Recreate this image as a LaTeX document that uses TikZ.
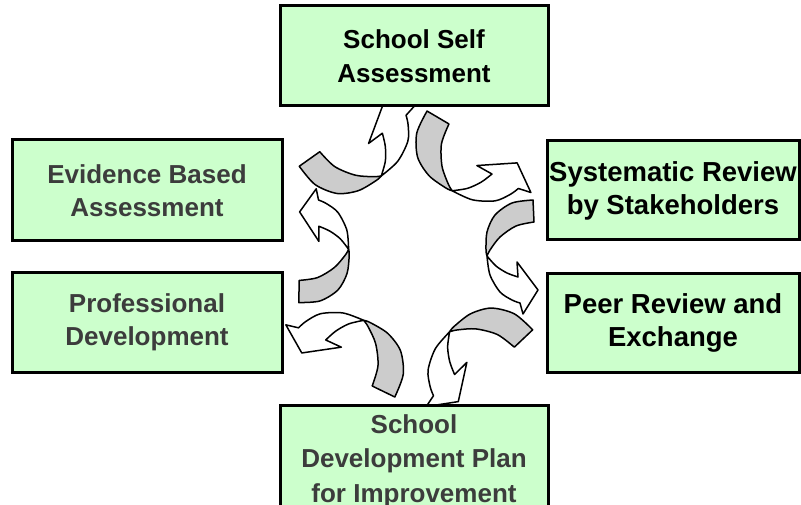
\documentclass[tikz,border=0pt]{standalone}
\usepackage{fontspec}
\setmainfont{Liberation Sans}
\definecolor{boxgreen}{RGB}{204,255,204}
\definecolor{ribbongray}{RGB}{204,204,204}
\definecolor{textgray}{RGB}{60,60,60}
\newcommand{\ribbonarrow}{%
  \filldraw[ribbonback]
    plot[smooth] coordinates {(-0.5,-11) (-21.5,-8) (-38.5,4) (-46.5,21) (-47.5,39) (-46.5,45)}
    -- plot[smooth] coordinates {(-46.5,45) (-43.5,39) (-33.5,26) (-17.5,15) (0.5,11)}
    -- cycle;
  \filldraw[ribbonfront]
    plot[smooth] coordinates {(-46.5,45) (-43.5,64) (-33.5,81) (-21.5,89) (-13.5,92)}
    -- (-10.5,103) -- (4.5,79) -- (-16.5,51) -- (-15.5,66)
    -- plot[smooth] coordinates {(-15.5,66) (-26.5,62) (-37.5,55) (-46.5,45)}
    -- cycle;
}
\begin{document}
\begin{tikzpicture}[x=1pt,y=-1pt,
  box/.style={draw=black, line width=3pt, fill=boxgreen, align=center, inner sep=0pt,
    font=\fontsize{26}{33}\selectfont\bfseries},
  ribbonback/.style={draw=black, line width=1.5pt, line join=round, fill=ribbongray},
  ribbonfront/.style={draw=black, line width=1.5pt, line join=round, fill=white}]
\useasboundingbox (0,0) rectangle (801,505);
\clip (0,0) rectangle (801,505);
\fill[white] (0,0) rectangle (801,505);

% curved ribbon arrows
\begin{scope}[shift={(309.5,159)}, rotate=122.7, scale=1.14] \ribbonarrow \end{scope}
\begin{scope}[shift={(438,117.5)}, rotate=56.9, scale=1.153] \ribbonarrow \end{scope}
\begin{scope}[shift={(533.5,211)}, rotate=0, scale=1] \ribbonarrow \end{scope}
\begin{scope}[shift={(523.5,338.5)}, rotate=-49.2, scale=1.147] \ribbonarrow \end{scope}
\begin{scope}[shift={(383.5,391.5)}, rotate=-118.5, scale=1.142] \ribbonarrow \end{scope}
\begin{scope}[shift={(299,291.5)}, rotate=-183.7, scale=1.006] \ribbonarrow \end{scope}

% boxes
\node[box, minimum width=268pt, minimum height=100pt, text=black,
  font=\fontsize{26}{34.5}\selectfont\bfseries] (self) at (414,56) {School Self\\Assessment};
\node[box, minimum width=270pt, minimum height=101pt, text=textgray] (evid) at (147,190.5) {Evidence Based\\Assessment};
\node[box, minimum width=270pt, minimum height=99pt, text=textgray] (prof) at (147,322.5) {Professional\\Development};
\node[box, minimum width=252pt, minimum height=99pt, text=black,
  font=\fontsize{27.5}{33}\selectfont\bfseries] (syst) at (673,190.5) {Systematic Review\\by Stakeholders};
\node[box, minimum width=252pt, minimum height=98pt, text=black,
  font=\fontsize{27.5}{33}\selectfont\bfseries] (peer) at (673,323) {Peer Review and\\Exchange};
\node[box, minimum width=268pt, minimum height=112pt, text=textgray,
  font=\fontsize{26}{34.5}\selectfont\bfseries] (plan) at (414,461) {School\\Development Plan\\for Improvement};
\end{tikzpicture}
\end{document}
